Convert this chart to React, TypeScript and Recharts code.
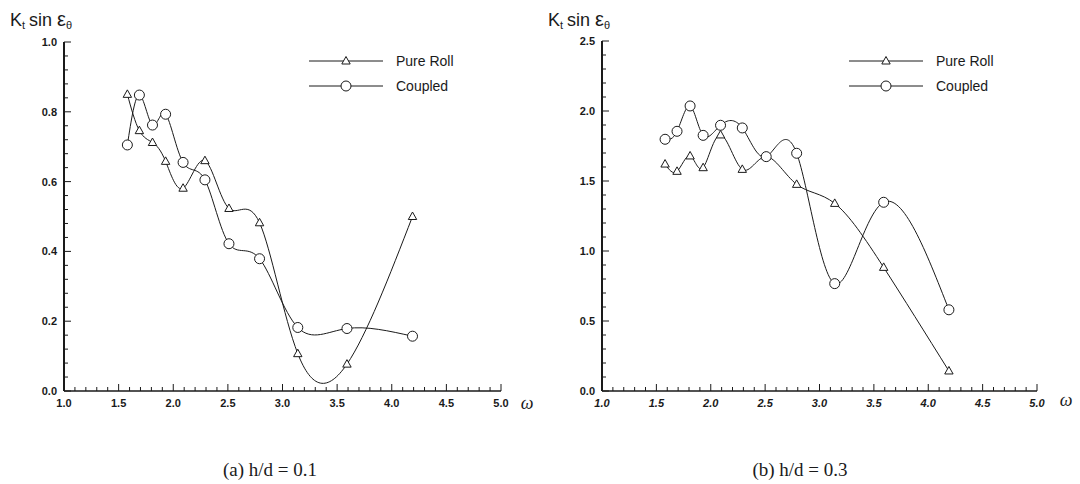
import React from 'react';
import { LineChart, Line, XAxis, YAxis, Legend } from 'recharts';

// ω (frequency) values shared by both panels
const omega = [1.58, 1.69, 1.81, 1.93, 2.09, 2.29, 2.51, 2.79, 3.14, 3.59, 4.19];

// Panel (a) h/d = 0.1
const pureRollA = [0.85, 0.746, 0.712, 0.658, 0.581, 0.66, 0.523, 0.482, 0.107, 0.077, 0.5];
const coupledA = [0.705, 0.848, 0.762, 0.793, 0.655, 0.605, 0.422, 0.379, 0.182, 0.179, 0.157];

// Panel (b) h/d = 0.3
const pureRollB = [1.621, 1.569, 1.679, 1.595, 1.829, 1.583, 1.674, 1.476, 1.34, 0.883, 0.143];
const coupledB = [1.798, 1.855, 2.036, 1.826, 1.898, 1.879, 1.674, 1.698, 0.767, 1.348, 0.58];

const xTicks = [
  1.0, 1.1, 1.2, 1.3, 1.4, 1.5, 1.6, 1.7, 1.8, 1.9,
  2.0, 2.1, 2.2, 2.3, 2.4, 2.5, 2.6, 2.7, 2.8, 2.9,
  3.0, 3.1, 3.2, 3.3, 3.4, 3.5, 3.6, 3.7, 3.8, 3.9,
  4.0, 4.1, 4.2, 4.3, 4.4, 4.5, 4.6, 4.7, 4.8, 4.9, 5.0,
];
const xMajor = [1.0, 1.5, 2.0, 2.5, 3.0, 3.5, 4.0, 4.5, 5.0];

const yTicksA = [
  0, 0.04, 0.08, 0.12, 0.16, 0.2, 0.24, 0.28, 0.32, 0.36, 0.4, 0.44, 0.48,
  0.52, 0.56, 0.6, 0.64, 0.68, 0.72, 0.76, 0.8, 0.84, 0.88, 0.92, 0.96, 1.0,
];
const yMajorA = [0, 0.2, 0.4, 0.6, 0.8, 1.0];

const yTicksB = [
  0, 0.1, 0.2, 0.3, 0.4, 0.5, 0.6, 0.7, 0.8, 0.9, 1.0, 1.1, 1.2,
  1.3, 1.4, 1.5, 1.6, 1.7, 1.8, 1.9, 2.0, 2.1, 2.2, 2.3, 2.4, 2.5,
];
const yMajorB = [0, 0.5, 1.0, 1.5, 2.0, 2.5];

const seriesNames = ['Pure Roll', 'Coupled'];
const captions = ['(a) h/d = 0.1', '(b) h/d = 0.3'];

const dataA = omega.map((w, i) => ({ w, pure: pureRollA[i], coupled: coupledA[i] }));
const dataB = omega.map((w, i) => ({ w, pure: pureRollB[i], coupled: coupledB[i] }));

const INK = '#1a1a1a';
const SANS = '"Liberation Sans", Arial, Helvetica, sans-serif';
const SERIF = '"Liberation Serif", "Times New Roman", serif';

const isIn = (v: number, list: number[]) => list.some((m) => Math.abs(m - v) < 1e-6);

const makeXTick = (italic: boolean) => (props: any) => {
  const { x, y, payload } = props;
  const v = payload.value as number;
  const major = isIn(v, xMajor);
  return (
    <g>
      <line x1={x} x2={x} y1={y} y2={y - (major ? 7 : 4)} stroke={INK} strokeWidth={1} />
      {major && (
        <text
          x={x}
          y={y + 16}
          textAnchor="middle"
          fontFamily={SANS}
          fontWeight="bold"
          fontStyle={italic ? 'italic' : 'normal'}
          fontSize={11}
          fill={INK}
        >
          {v.toFixed(1)}
        </text>
      )}
    </g>
  );
};

const makeYTick = (majors: number[]) => (props: any) => {
  const { x, y, payload } = props;
  const v = payload.value as number;
  const major = isIn(v, majors);
  return (
    <g>
      <line x1={x} x2={x + (major ? 7 : 4)} y1={y} y2={y} stroke={INK} strokeWidth={1} />
      {major && (
        <text
          x={x - 7}
          y={y + 4}
          textAnchor="end"
          fontFamily={SANS}
          fontWeight="bold"
          fontSize={11}
          fill={INK}
        >
          {v.toFixed(1)}
        </text>
      )}
    </g>
  );
};

const Triangle = ({ cx, cy }: { cx: number; cy: number }) => (
  <path
    d={`M${cx},${cy - 4.5} L${cx + 4.2},${cy + 3} L${cx - 4.2},${cy + 3} Z`}
    fill="#fff"
    stroke={INK}
    strokeWidth={1}
  />
);

const renderTriangle = (props: any) => (
  <Triangle key={`tri-${props.index}`} cx={props.cx} cy={props.cy} />
);

const renderCircle = (props: any) => (
  <circle key={`cir-${props.index}`} cx={props.cx} cy={props.cy} r={5} fill="#fff" stroke={INK} strokeWidth={1} />
);

const LegendBox = () => (
  <svg width={170} height={50} style={{ display: 'block' }}>
    <line x1={4} x2={78} y1={12} y2={12} stroke={INK} strokeWidth={1} />
    <Triangle cx={41} cy={12} />
    <text x={91} y={12} dominantBaseline="central" fontFamily={SANS} fontSize={14} fill={INK}>
      {seriesNames[0]}
    </text>
    <line x1={4} x2={78} y1={37} y2={37} stroke={INK} strokeWidth={1} />
    <circle cx={41} cy={37} r={5} fill="#fff" stroke={INK} strokeWidth={1} />
    <text x={91} y={37} dominantBaseline="central" fontFamily={SANS} fontSize={14} fill={INK}>
      {seriesNames[1]}
    </text>
  </svg>
);

type PanelProps = {
  data: any[];
  yDomain: [number, number];
  yTicks: number[];
  yMajor: number[];
  margin: { top: number; right: number; bottom: number; left: number };
  italicX: boolean;
};

const Panel = ({ data, yDomain, yTicks, yMajor, margin, italicX }: PanelProps) => (
  <LineChart width={540} height={484} data={data} margin={margin}>
    <XAxis
      dataKey="w"
      type="number"
      domain={[1, 5]}
      ticks={xTicks}
      interval={0}
      tickSize={0}
      tickMargin={0}
      tickLine={false}
      height={30}
      axisLine={{ stroke: INK, strokeWidth: 1.5 }}
      tick={makeXTick(italicX)}
    />
    <YAxis
      type="number"
      domain={yDomain}
      ticks={yTicks}
      interval={0}
      tickSize={0}
      tickMargin={0}
      tickLine={false}
      width={34}
      axisLine={{ stroke: INK, strokeWidth: 2 }}
      tick={makeYTick(yMajor)}
    />
    <Legend
      layout="horizontal"
      verticalAlign="middle"
      align="center"
      content={() => <LegendBox />}
      wrapperStyle={{ position: 'absolute', left: 305, top: 49, width: 170, height: 50 }}
    />
    <Line
      dataKey="pure"
      name={seriesNames[0]}
      type="natural"
      stroke={INK}
      strokeWidth={1}
      dot={renderTriangle}
      activeDot={false}
      isAnimationActive={false}
    />
    <Line
      dataKey="coupled"
      name={seriesNames[1]}
      type="natural"
      stroke={INK}
      strokeWidth={1}
      dot={renderCircle}
      activeDot={false}
      isAnimationActive={false}
    />
  </LineChart>
);

const Title = ({ x, y }: { x: number; y: number }) => (
  <text x={x} y={y} fontFamily={SANS} fontSize={18} fill={INK}>
    K
    <tspan fontSize={11} dy={3}>t</tspan>
    <tspan dy={-3} dx={4}>sin</tspan>
    <tspan dx={5} fontSize={20}>ε</tspan>
    <tspan fontSize={11} dy={3}>θ</tspan>
  </text>
);

export default function App() {
  return (
    <div style={{ position: 'absolute', left: 0, top: 0, width: 1080, height: 484, background: '#fff' }}>
      <div style={{ position: 'absolute', left: 0, top: 0 }}>
        <Panel
          data={dataA}
          yDomain={[0, 1]}
          yTicks={yTicksA}
          yMajor={yMajorA}
          margin={{ top: 42, right: 39, bottom: 63, left: 30 }}
          italicX={false}
        />
      </div>
      <div style={{ position: 'absolute', left: 540, top: 0 }}>
        <Panel
          data={dataB}
          yDomain={[0, 2.5]}
          yTicks={yTicksB}
          yMajor={yMajorB}
          margin={{ top: 41, right: 43, bottom: 63, left: 28 }}
          italicX={true}
        />
      </div>
      <svg
        width={1080}
        height={484}
        style={{ position: 'absolute', left: 0, top: 0, pointerEvents: 'none' }}
      >
        <Title x={10} y={26} />
        <Title x={548} y={26} />
        <text x={527} y={409} textAnchor="middle" fontFamily={SERIF} fontStyle="italic" fontSize={18} fill={INK}>
          ω
        </text>
        <text x={1066} y={406} textAnchor="middle" fontFamily={SERIF} fontStyle="italic" fontSize={18} fill={INK}>
          ω
        </text>
        <text x={270} y={476} textAnchor="middle" fontFamily={SERIF} fontSize={19} fill={INK}>
          {captions[0]}
        </text>
        <text x={800} y={476} textAnchor="middle" fontFamily={SERIF} fontSize={19} fill={INK}>
          {captions[1]}
        </text>
      </svg>
    </div>
  );
}
